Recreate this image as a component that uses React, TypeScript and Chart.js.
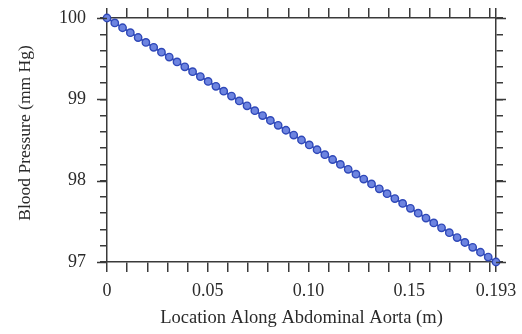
import React, { useEffect, useRef } from "react";
import { Chart, registerables } from "chart.js";

Chart.register(...registerables);

const locations = [
  0, 0.00386, 0.00772, 0.01158, 0.01544, 0.0193, 0.02316, 0.02702, 0.03088, 0.03474,
  0.0386, 0.04246, 0.04632, 0.05018, 0.05404, 0.0579, 0.06176, 0.06562, 0.06948, 0.07334,
  0.0772, 0.08106, 0.08492, 0.08878, 0.09264, 0.0965, 0.10036, 0.10422, 0.10808, 0.11194,
  0.1158, 0.11966, 0.12352, 0.12738, 0.13124, 0.1351, 0.13896, 0.14282, 0.14668, 0.15054,
  0.1544, 0.15826, 0.16212, 0.16598, 0.16984, 0.1737, 0.17756, 0.18142, 0.18528, 0.18914,
  0.193,
];

const pressures = [
  100, 99.94, 99.88, 99.82, 99.76, 99.7, 99.64, 99.58, 99.52, 99.46,
  99.4, 99.34, 99.28, 99.22, 99.16, 99.1, 99.04, 98.98, 98.92, 98.86,
  98.8, 98.74, 98.68, 98.62, 98.56, 98.5, 98.44, 98.38, 98.32, 98.26,
  98.2, 98.14, 98.08, 98.02, 97.96, 97.9, 97.84, 97.78, 97.72, 97.66,
  97.6, 97.54, 97.48, 97.42, 97.36, 97.3, 97.24, 97.18, 97.12, 97.06,
  97.0,
];

const xTickValues = [
  0, 0.01, 0.02, 0.03, 0.04, 0.05, 0.06, 0.07, 0.08, 0.09, 0.1,
  0.11, 0.12, 0.13, 0.14, 0.15, 0.16, 0.17, 0.18, 0.19, 0.193,
];
const xTickLabels: [number, string][] = [
  [0, "0"],
  [0.05, "0.05"],
  [0.1, "0.10"],
  [0.15, "0.15"],
  [0.193, "0.193"],
];

const yTickValues = [
  97, 97.2, 97.4, 97.6, 97.8, 98, 98.2, 98.4, 98.6, 98.8,
  99, 99.2, 99.4, 99.6, 99.8, 100,
];
const yTickLabels = [97, 98, 99, 100];

const xTitle = "Location Along Abdominal Aorta (m)";
const yTitle = "Blood Pressure (mm Hg)";

const FONT = "'Liberation Serif', 'Times New Roman', serif";
const AXIS = "#3a3a3a";
const TEXT = "#2a2a2a";

const decorPlugin = {
  id: "decor",
  afterDraw(chart: any) {
    const ctx = chart.ctx;
    const y = chart.scales.y;
    const area = chart.chartArea;
    ctx.save();
    // longer major ticks on the value axes
    ctx.strokeStyle = AXIS;
    ctx.lineWidth = 1.5;
    yTickLabels.forEach((v) => {
      const py = Math.round(y.getPixelForValue(v)) + 0.5;
      ctx.beginPath();
      ctx.moveTo(area.left - 10, py);
      ctx.lineTo(area.left, py);
      ctx.moveTo(area.right, py);
      ctx.lineTo(area.right + 10, py);
      ctx.stroke();
    });
    // vertical axis title
    ctx.fillStyle = TEXT;
    ctx.font = `17.5px ${FONT}`;
    ctx.textAlign = "center";
    ctx.textBaseline = "middle";
    ctx.translate(25, (area.top + area.bottom) / 2 - 7);
    ctx.rotate(-Math.PI / 2);
    ctx.fillText(yTitle, 0, 0);
    ctx.restore();
  },
};

const fixSize = (w: number | null, h: number | null) => (s: any) => {
  if (w !== null) s.width = w;
  if (h !== null) s.height = h;
  s.paddingTop = 0;
  s.paddingBottom = 0;
  s.paddingLeft = 0;
  s.paddingRight = 0;
};

export default function App() {
  const ref = useRef<HTMLCanvasElement>(null);

  useEffect(() => {
    const canvas = ref.current;
    if (!canvas) return;

    const xGrid = {
      drawOnChartArea: false,
      drawTicks: true,
      tickLength: 10,
      color: AXIS,
      lineWidth: 1.5,
    };
    const yGrid = { ...xGrid, tickLength: 7 };
    const borderOpts = { display: true, color: AXIS, width: 1.5 };

    const xLabel = (v: number) => {
      const f = xTickLabels.find((p) => Math.abs(p[0] - v) < 1e-6);
      return f ? f[1] : "";
    };
    const yLabel = (v: number) => {
      const f = yTickLabels.find((p) => Math.abs(p - v) < 1e-6);
      return f !== undefined ? String(f) : "";
    };

    const chart = new Chart(canvas, {
      type: "scatter",
      data: {
        datasets: [
          {
            data: locations.map((x, i) => ({ x, y: pressures[i] })),
            showLine: true,
            borderColor: "#3550c0",
            borderWidth: 2,
            backgroundColor: "#6a80dc",
            pointBorderColor: "#2f48b8",
            pointBackgroundColor: "#6d84e0",
            pointRadius: 3.7,
            pointBorderWidth: 1.4,
            clip: false,
          } as any,
        ],
      },
      options: {
        animation: false,
        responsive: false,
        maintainAspectRatio: false,
        layout: { padding: 0 },
        plugins: { legend: { display: false }, tooltip: { enabled: false } },
        scales: {
          x: {
            type: "linear",
            position: "bottom",
            min: 0,
            max: 0.193,
            afterBuildTicks: (s: any) => {
              s.ticks = xTickValues.map((v) => ({ value: v }));
            },
            afterFit: fixSize(null, 72),
            ticks: {
              autoSkip: false,
              maxRotation: 0,
              padding: 8,
              color: TEXT,
              font: { family: FONT, size: 18 },
              callback: (v: any) => xLabel(Number(v)),
            },
            grid: xGrid,
            border: borderOpts,
            title: {
              display: true,
              text: xTitle,
              color: TEXT,
              font: { family: FONT, size: 18.5 },
              padding: { top: 4, bottom: 5 },
            },
          },
          x2: {
            type: "linear",
            position: "top",
            min: 0,
            max: 0.193,
            afterBuildTicks: (s: any) => {
              s.ticks = xTickValues.map((v) => ({ value: v }));
            },
            afterFit: fixSize(null, 18),
            ticks: { autoSkip: false, callback: () => "" },
            grid: xGrid,
            border: borderOpts,
          },
          y: {
            type: "linear",
            position: "left",
            min: 97,
            max: 100,
            afterBuildTicks: (s: any) => {
              s.ticks = yTickValues.map((v) => ({ value: v }));
            },
            afterFit: fixSize(107, null),
            ticks: {
              autoSkip: false,
              padding: 14,
              color: TEXT,
              font: { family: FONT, size: 18 },
              callback: (v: any) => yLabel(Number(v)),
            },
            grid: yGrid,
            border: borderOpts,
          },
          y2: {
            type: "linear",
            position: "right",
            min: 97,
            max: 100,
            afterBuildTicks: (s: any) => {
              s.ticks = yTickValues.map((v) => ({ value: v }));
            },
            afterFit: fixSize(26, null),
            ticks: { autoSkip: false, callback: () => "" },
            grid: yGrid,
            border: borderOpts,
          },
        },
      } as any,
      plugins: [decorPlugin],
    });

    return () => chart.destroy();
  }, []);

  return (
    <div style={{ position: "absolute", left: 0, top: 0, width: 522, height: 334, background: "#fff" }}>
      <canvas ref={ref} width={522} height={334} style={{ display: "block" }} />
    </div>
  );
}
